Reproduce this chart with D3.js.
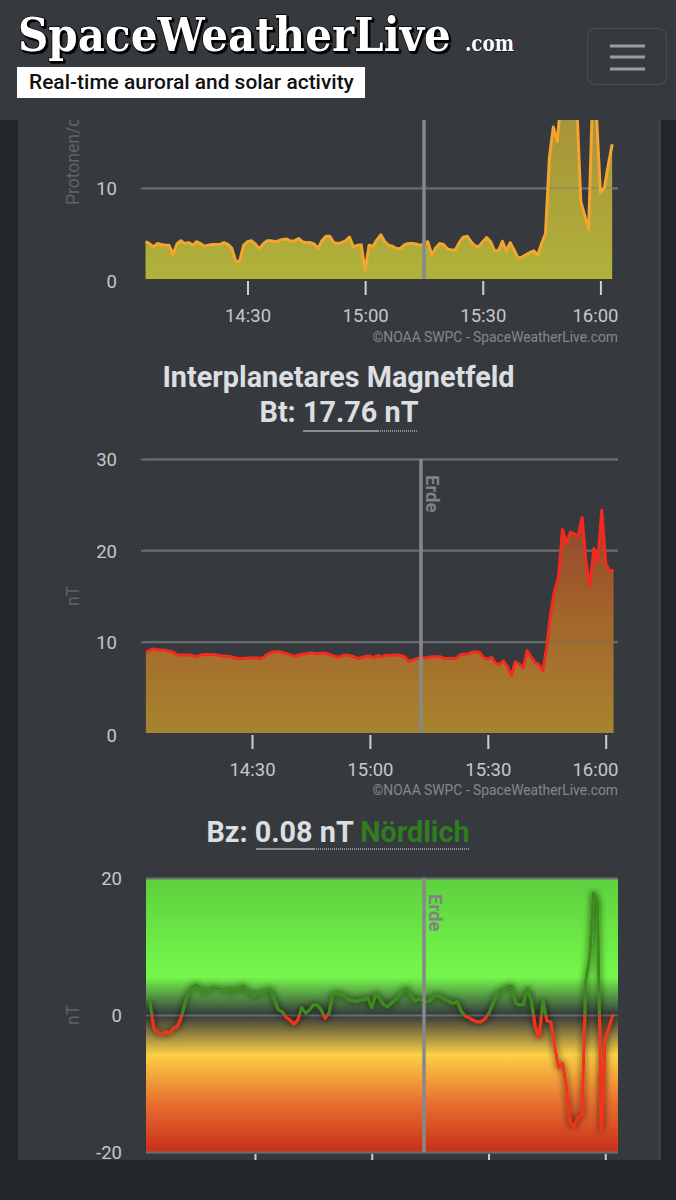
<!DOCTYPE html>
<html>
<head>
<meta charset="utf-8">
<script src="https://cdn.jsdelivr.net/npm/d3@7"></script>
<style>
  html, body { margin: 0; padding: 0; background: #22252a; }
  svg { display: block; }
  text { font-family: Roboto, sans-serif; }
  .domain { display: none; }
</style>
</head>
<body>
<script>
const timeTicks = ["14:30", "15:00", "15:30", "16:00"];

const protonValues = [
  4.1, 3.9, 3.5, 3.9, 3.8, 3.7, 3.7, 2.7, 3.85, 4.2,
  3.9, 4.0, 3.7, 4.1, 3.9, 3.6, 3.7, 3.8, 3.8, 3.8,
  4.0, 3.8, 3.4, 1.95, 1.95, 3.7, 4.1, 4.2, 3.85, 3.3,
  3.85, 4.2, 4.2, 4.1, 4.2, 4.35, 4.4, 4.15, 4.2, 4.45,
  4.1, 4.0, 4.0, 3.85, 3.4, 4.2, 4.7, 4.7, 4.0, 3.9,
  4.0, 4.2, 4.6, 3.55, 3.7, 3.75, 0.9, 3.7, 3.6, 4.3,
  4.85, 4.1, 3.7, 3.6, 3.35, 3.35, 3.75, 3.9, 3.9, 3.85,
  3.7, 3.9, 4.1, 2.65, 3.4, 3.9, 3.8, 3.3, 3.2, 3.2,
  4.0, 4.6, 4.7, 4.1, 3.65, 3.55, 4.1, 4.55, 4.1, 3.1,
  3.1, 4.15, 3.1, 4.0, 3.2, 2.3, 2.4, 2.65, 2.9, 3.1,
  2.6, 3.9, 5.0, 13.4, 16.7, 15.1, 20, 22, 22, 22,
  19, 8.5, 7, 5.45, 20, 18, 9.5, 10, 12.5, 14.8
];

const btValues = [
  8.8, 9.1, 9.2, 9.1, 9.1, 9.05, 8.95, 8.85, 8.55, 8.55,
  8.55, 8.55, 8.45, 8.35, 8.55, 8.6, 8.6, 8.6, 8.55, 8.45,
  8.4, 8.4, 8.3, 8.2, 8.15, 8.15, 8.2, 8.2, 8.25, 8.15,
  8.3, 8.65, 8.85, 8.9, 8.9, 8.8, 8.65, 8.5, 8.4, 8.55,
  8.65, 8.7, 8.8, 8.7, 8.7, 8.75, 8.7, 8.55, 8.4, 8.3,
  8.45, 8.55, 8.45, 8.35, 8.15, 8.3, 8.4, 8.4, 8.25, 8.5,
  8.3, 8.5, 8.5, 8.55, 8.55, 8.5, 8.3, 7.8, 8.0, 8.15,
  8.25, 8.2, 8.3, 8.35, 8.35, 8.35, 8.15, 8.15, 8.15, 8.2,
  8.55, 8.65, 8.65, 8.85, 8.9, 8.8, 8.2, 8.1, 8.3, 7.6,
  7.55, 7.9, 7.25, 6.3, 7.8, 7.55, 7.1, 9.0, 8.35, 7.7,
  7.5, 6.8, 9.45, 13.1, 15.65, 17.1, 22.3, 20.75, 22, 21.8,
  21.6, 23.6, 18.6, 16.1, 20.2, 18.75, 24.4, 18.6, 17.7, 17.85
];

const bzValues = [
  1.95, -1.95, -2.5, -2.9, -2.45, -2.7, -1.95, -1.7, -0.5, 1.7,
  3.4, 4.15, 4.4, 3.9, 3.25, 3.65, 4.0, 3.9, 3.75, 3.75,
  3.4, 3.9, 3.4, 3.9, 4.25, 3.4, 3.15, 2.9, 3.15, 3.4,
  3.55, 3.75, 2.2, 0.75, 0.5, -0.35, -0.75, -1.35, -0.75, 1.1,
  0.25, 0.75, 1.45, 1.45, 0.75, -0.5, 0.25, 3.05, 3.15, 3.0,
  2.8, 2.2, 2.1, 1.95, 2.2, 2.2, 2.45, 1.05, 3.15, 2.45,
  1.55, 1.2, 1.7, 2.2, 2.8, 3.4, 3.9, 2.9, 2.05, 2.3,
  2.2, 1.95, 2.1, 2.75, 2.9, 2.6, 2.2, 1.95, 1.7, 1.95,
  0.5, -0.15, -0.4, -0.75, -1.0, -1.0, -0.6, 0.15, 1.45, 2.9,
  3.55, 3.75, 4.15, 4.15, 1.7, 1.45, 1.55, 3.9, 1.95, -1.7,
  -3.3, 2.1, -0.85, -1.0, -4.6, -7.65, -7.05, -10.45, -15.8, -16.2,
  -14.85, -14.6, 5.1, 8.5, 17.85, 16.3, -16.8, -3.4, -1.7, 0.15
];

const toMinutes = s => {
  const p = s.split(":");
  return +p[0] * 60 + +p[1];
};

const svg = d3.select("body").append("svg")
  .attr("width", 676)
  .attr("height", 1200)
  .attr("viewBox", "0 0 676 1200");

const defs = svg.append("defs");

function addGradient(id, y1, y2, stops) {
  const g = defs.append("linearGradient")
    .attr("id", id)
    .attr("gradientUnits", "userSpaceOnUse")
    .attr("x1", 0).attr("x2", 0)
    .attr("y1", y1).attr("y2", y2);
  stops.forEach(s => g.append("stop").attr("offset", s[0]).attr("stop-color", s[1]));
}

const shadow = defs.append("filter").attr("id", "lineShadow")
  .attr("filterUnits", "userSpaceOnUse")
  .attr("x", 146).attr("y", 878).attr("width", 472).attr("height", 274);
shadow.append("feDropShadow")
  .attr("dx", 0).attr("dy", 0)
  .attr("stdDeviation", 3.5)
  .attr("flood-color", "#000")
  .attr("flood-opacity", 0.85);

// page
svg.append("rect").attr("width", 676).attr("height", 1200).attr("fill", "#22252a");
svg.append("rect").attr("x", 18).attr("y", 100).attr("width", 642).attr("height", 1060).attr("fill", "#363a3f");
svg.append("rect").attr("x", 659).attr("y", 100).attr("width", 1.5).attr("height", 1060).attr("fill", "#46494d");

function drawChart(opts) {
  const x = d3.scaleLinear()
    .domain([toMinutes(timeTicks[0]), toMinutes(timeTicks[3])])
    .range(opts.xRange);
  const y = d3.scaleLinear().domain(opts.yDomain).range(opts.yRange);
  const start = toMinutes(opts.start);
  const points = opts.values.map((v, i) => [start + i, v]);

  const g = svg.append("g");

  if (opts.background) {
    g.append("rect")
      .attr("x", 146).attr("width", 472)
      .attr("y", y(opts.yDomain[1]))
      .attr("height", y(opts.yDomain[0]) - y(opts.yDomain[1]))
      .attr("fill", opts.background);
  }

  // y axis with gridlines
  const yAxis = g.append("g")
    .attr("transform", "translate(618,0)")
    .call(d3.axisLeft(y)
      .tickValues(opts.yTicks)
      .tickFormat(d => String(d))
      .tickSize(618 - opts.gridLeft)
      .tickPadding(0));
  yAxis.selectAll(".tick line")
    .attr("stroke", "#6c6f72")
    .attr("stroke-width", 2)
    .attr("stroke-opacity", d => (opts.areaFill && d === 0) ? 0 : 1);
  yAxis.selectAll(".tick text")
    .attr("x", opts.labelRight - 618)
    .attr("dy", d => (opts.areaFill && d === 0) ? "0.46em" : "0.36em")
    .attr("fill", "#c6c7c9")
    .style("font-size", "18.5px")
    .style("font-family", "Roboto, sans-serif");

  if (opts.areaFill) {
    g.append("path")
      .datum(points)
      .attr("fill", opts.areaFill)
      .attr("d", d3.area().x(d => x(d[0])).y0(y(0)).y1(d => y(d[1])));
    // gridlines show faintly through the fill
    g.selectAll(".gridOver")
      .data(opts.yTicks.filter(t => t > 0))
      .enter().append("line")
      .attr("x1", 146).attr("x2", 618)
      .attr("y1", d => y(d)).attr("y2", d => y(d))
      .attr("stroke", "#6c6f72").attr("stroke-width", 2).attr("stroke-opacity", 0.35);
  }

  const linePath = g.append("path")
    .datum(points)
    .attr("fill", "none")
    .attr("stroke", opts.lineColor)
    .attr("stroke-width", opts.lineWidth)
    .attr("stroke-linejoin", "round")
    .attr("d", d3.line().x(d => x(d[0])).y(d => y(d[1])));
  if (opts.lineFilter) linePath.attr("filter", opts.lineFilter);

  // earth marker
  g.append("line")
    .attr("x1", opts.earthX).attr("x2", opts.earthX)
    .attr("y1", opts.earthTop).attr("y2", y(opts.yDomain[0]))
    .attr("stroke", "#86888b").attr("stroke-width", 3.5);
  if (opts.earthLabel) {
    g.append("text")
      .attr("transform", `translate(${opts.earthX + 5},${opts.earthTop + 16}) rotate(90)`)
      .attr("fill", "#808285")
      .style("font-size", "18.5px")
      .style("font-weight", 700)
      .text("Erde");
  }

  // x axis
  const xAxis = g.append("g")
    .attr("transform", `translate(0,${y(opts.yDomain[0]) + 2})`)
    .call(d3.axisBottom(x)
      .tickValues(timeTicks.map(toMinutes))
      .tickFormat((d, i) => opts.timeLabels ? timeTicks[i] : "")
      .tickSize(opts.tickSize)
      .tickPadding(opts.tickPad));
  xAxis.selectAll(".tick line").attr("stroke", "#cfd0d1").attr("stroke-width", 2);
  xAxis.selectAll(".tick text")
    .attr("fill", "#c6c7c9")
    .style("font-size", "18.5px")
    .style("font-family", "Roboto, sans-serif");
  xAxis.selectAll(".tick text")
    .filter((d, i) => i === 3)
    .attr("text-anchor", "end")
    .attr("dx", 618 - x(toMinutes(timeTicks[3])));

  // unit label
  g.append("text")
    .attr("transform", `translate(${opts.unitX},${opts.unitY}) rotate(-90)`)
    .attr("fill", "#5f6266")
    .style("font-size", "17.5px")
    .text(opts.unit);

  if (opts.credit) {
    g.append("text")
      .attr("x", 618).attr("y", opts.credit)
      .attr("text-anchor", "end")
      .attr("fill", "#85888b")
      .style("font-size", "13.85px")
      .text("©NOAA SWPC - SpaceWeatherLive.com");
  }
}

addGradient("protonFill", 120, 279, [[0, "#a8933a"], [1, "#b0b23a"]]);
addGradient("btFill", 500, 733, [[0, "#92402a"], [0.5, "#a3652b"], [1, "#a8842f"]]);
addGradient("bzBack", 878, 1152, [
  [0, "#5dd03e"], [0.36, "#75f84b"], [0.5, "#35383c"],
  [0.645, "#fbd045"], [0.82, "#e8702f"], [1, "#c82f1a"]
]);
// hard switch at Bz = 0
addGradient("bzLine", 878, 1152, [
  [0, "#3f8a1f"], [0.5, "#3f8a1f"], [0.5, "#f5301f"], [1, "#f5301f"]
]);

drawChart({
  values: protonValues, start: "14:04",
  xRange: [247.5, 600.4], yDomain: [0, 10], yRange: [279, 188],
  yTicks: [0, 10], gridLeft: 141, labelRight: 117,
  areaFill: "url(#protonFill)", lineColor: "#f4a52f", lineWidth: 3,
  earthX: 424, earthTop: 120, earthLabel: false,
  tickSize: 14, tickPad: 14, timeLabels: true,
  unit: "Protonen/cm²-s", unitX: 79, unitY: 205, credit: 341.5
});

drawChart({
  values: btValues, start: "14:03",
  xRange: [252, 605.7], yDomain: [0, 30], yRange: [733, 459],
  yTicks: [0, 10, 20, 30], gridLeft: 141, labelRight: 117,
  areaFill: "url(#btFill)", lineColor: "#f42a1e", lineWidth: 3,
  earthX: 421, earthTop: 459, earthLabel: true,
  tickSize: 14, tickPad: 14, timeLabels: true,
  unit: "nT", unitX: 79, unitY: 606, credit: 795
});

// the page ends under this chart, so its time labels are not in view
drawChart({
  values: bzValues, start: "14:03",
  xRange: [255, 605.3], yDomain: [-20, 20], yRange: [1152, 878],
  yTicks: [-20, 0, 20], gridLeft: 146, labelRight: 122,
  background: "url(#bzBack)", lineColor: "url(#bzLine)", lineWidth: 3,
  lineFilter: "url(#lineShadow)",
  earthX: 424, earthTop: 878, earthLabel: true,
  tickSize: 6, tickPad: 14, timeLabels: false,
  unit: "nT", unitX: 79, unitY: 1025
});

// headings
const heading = (x, y, parts) => {
  const t = svg.append("text")
    .attr("x", x).attr("y", y)
    .attr("text-anchor", "middle")
    .style("font-size", "28.8px")
    .style("font-weight", 700)
    .attr("fill", "#dcdee0");
  parts.forEach(p => {
    const s = t.append("tspan").text(p[0]);
    if (p[1]) s.attr("fill", p[1]);
  });
};
const underline = (x1, x2, x3, y) => {
  svg.append("line").attr("x1", x1).attr("x2", x2).attr("y1", y).attr("y2", y)
    .attr("stroke", "#a9abad").attr("stroke-width", 1.5);
  svg.append("line").attr("x1", x2).attr("x2", x3).attr("y1", y).attr("y2", y)
    .attr("stroke", "#a9abad").attr("stroke-width", 1.5).attr("stroke-dasharray", "1 1");
};

heading(338.5, 387, [["Interplanetares Magnetfeld"]]);
heading(339, 422, [["Bt: 17.76 nT"]]);
underline(303, 378, 418, 431);
heading(338, 842, [["Bz: 0.08 nT "], ["Nördlich", "#2f7d1c"]]);
underline(256, 314, 469, 849);

// header sits on top and cuts the first chart
svg.append("rect").attr("width", 676).attr("height", 120).attr("fill", "#363a3f");

// squeeze a text horizontally to the width it has in the picture
const fitText = (sel, x, y, width) => {
  const scale = width / sel.node().getComputedTextLength();
  sel.attr("transform", `translate(${x},${y}) scale(${scale},1)`);
};

const logo = svg.append("text")
  .attr("fill", "#fff")
  .attr("stroke", "#000").attr("stroke-width", 1.5)
  .style("paint-order", "stroke")
  .style("filter", "drop-shadow(2px 2px 0 #000)")
  .style("font-family", "'DejaVu Serif', serif")
  .style("font-size", "46px")
  .style("font-weight", 700)
  .text("SpaceWeatherLive");
fitText(logo, 18, 51, 433);

const logoCom = svg.append("text")
  .attr("fill", "#fff")
  .attr("stroke", "#000").attr("stroke-width", 1)
  .style("paint-order", "stroke")
  .style("font-family", "'DejaVu Serif', serif")
  .style("font-size", "23px")
  .style("font-weight", 700)
  .text(".com");
fitText(logoCom, 465, 51, 49);

svg.append("rect").attr("x", 17).attr("y", 67).attr("width", 348).attr("height", 31).attr("fill", "#fff");
const tagline = svg.append("text")
  .attr("fill", "#111")
  .style("font-size", "21px")
  .style("font-weight", 500)
  .text("Real-time auroral and solar activity");
fitText(tagline, 29, 89, 325);

svg.append("rect")
  .attr("x", 587.5).attr("y", 28.5).attr("width", 79).attr("height", 56).attr("rx", 8)
  .attr("fill", "none").attr("stroke", "#46494d").attr("stroke-width", 1.5);
svg.selectAll(".burger")
  .data([46, 57, 69])
  .enter().append("line")
  .attr("x1", 610).attr("x2", 645)
  .attr("y1", d => d).attr("y2", d => d)
  .attr("stroke", "#9a9c9e").attr("stroke-width", 3);
</script>
</body>
</html>
